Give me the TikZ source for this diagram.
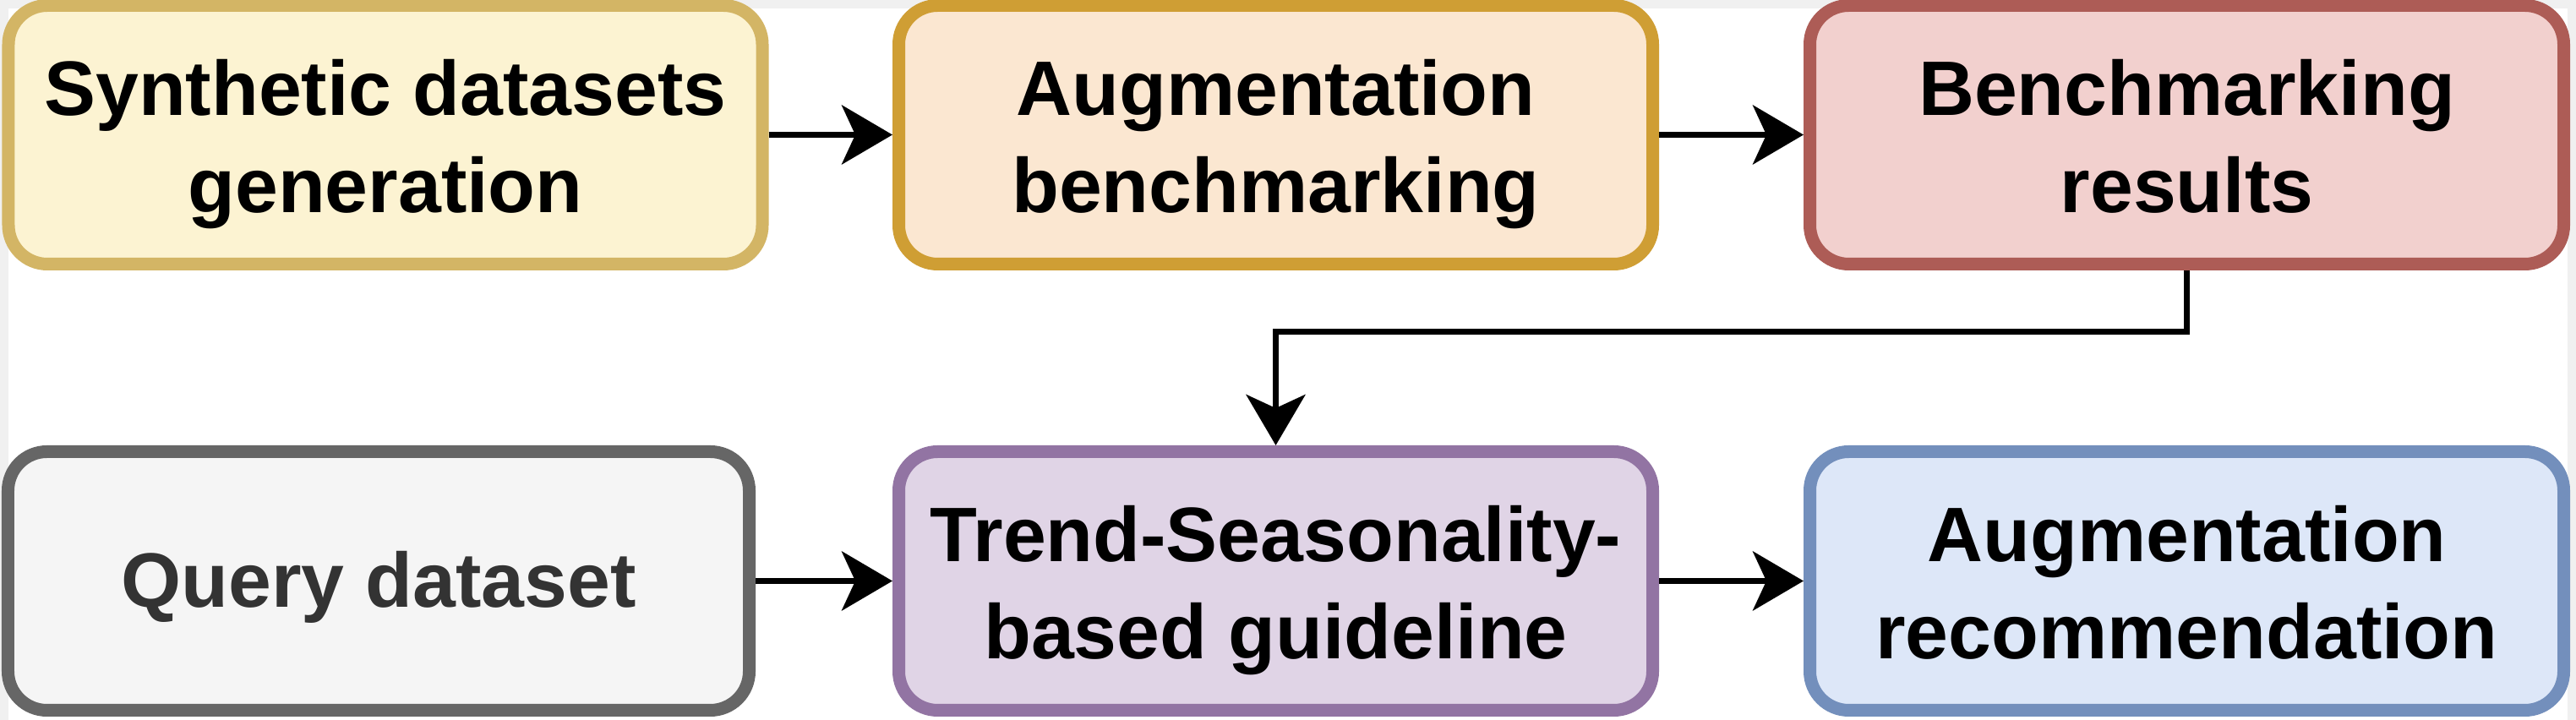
\documentclass[tikz,border=0pt]{standalone}
\usepackage{fontspec}
\setmainfont{Liberation Sans}
\usetikzlibrary{arrows.meta,positioning}
\definecolor{synthfill}{HTML}{FCF3D2}
\definecolor{synthline}{HTML}{D3B565}
\definecolor{augfill}{HTML}{FBE7D1}
\definecolor{augline}{HTML}{CF9E34}
\definecolor{resfill}{HTML}{F2D0CE}
\definecolor{resline}{HTML}{AD5C56}
\definecolor{queryfill}{HTML}{F5F5F5}
\definecolor{queryline}{HTML}{666666}
\definecolor{querytext}{HTML}{333333}
\definecolor{guidefill}{HTML}{E0D4E6}
\definecolor{guideline}{HTML}{9274A3}
\definecolor{recfill}{HTML}{DDE7F8}
\definecolor{recline}{HTML}{738FBC}
\definecolor{framegray}{HTML}{F0F0F0}
\tikzset{
	>={Stealth[length=0.6cm, width=0.7cm, inset=0.16cm]}, % filled arrow heads
	on grid,
	box/.style={draw, rounded corners=0.46cm, line width=0.15cm,
		minimum width=8.92cm, minimum height=3.06cm, inner sep=0pt, align=center,
		font={\bfseries\fontsize{26}{32.7}\selectfont},
		text height=0.89cm, text depth=0.26cm},
	twoline/.style={text height=2.1cm},
	flow/.style={->, line width=0.07cm},
}
\begin{document}
\begin{tikzpicture}
      % page with its light grey frame
      \fill[framegray] (0,0) rectangle (30.48,8.52);
      \fill[white] (0.1,0) rectangle (30.38,8.42);
      \useasboundingbox (0,0) rectangle (30.48,8.52);

      \node[box, twoline, fill=synthfill, draw=synthline] (synth) at (4.56,6.925) {Synthetic datasets\\generation};
      \node[box, twoline, fill=augfill, draw=augline, right=10.535cm of synth] (aug) {Augmentation\\benchmarking};
      \node[box, twoline, fill=resfill, draw=resline, right=10.78cm of aug] (res) {Benchmarking\\results};
      \node[box, twoline, fill=guidefill, draw=guideline, below=5.28cm of aug] (guide) {Trend-Seasonality-\\based guideline};
      \node[box, fill=queryfill, draw=queryline, text=querytext, minimum width=8.77cm, left=10.615cm of guide] (query) {Query dataset};
      \node[box, twoline, fill=recfill, draw=recline, right=10.78cm of guide] (rec) {Augmentation\\recommendation};

      \draw[flow] (synth) -- (aug);
      \draw[flow] (aug) -- (res);
      \draw[flow] (res.south) -- ++(0,-0.73) -| (guide.north);
      \draw[flow] (query) -- (guide);
      \draw[flow] (guide) -- (rec);
\end{tikzpicture}
\end{document}
